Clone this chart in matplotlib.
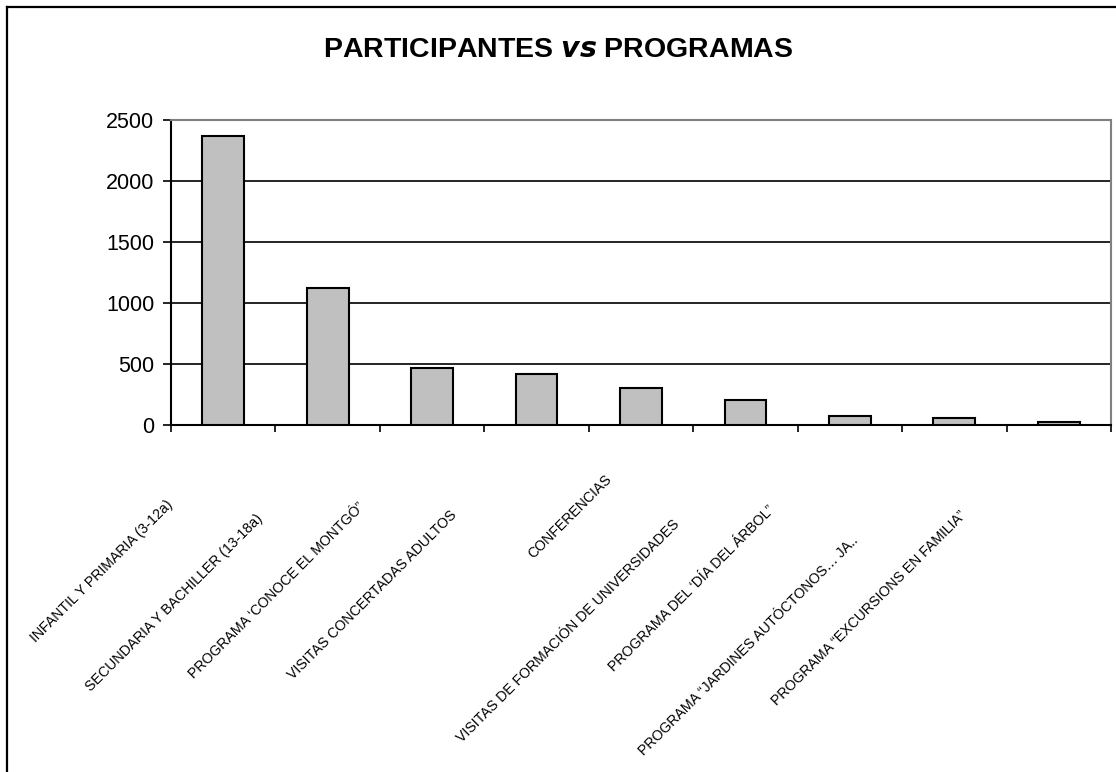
import matplotlib.pyplot as plt
from matplotlib.lines import Line2D

categorias = [
    "INFANTIL Y PRIMARIA (3-12a)",
    "SECUNDARIA Y BACHILLER (13-18a)",
    "PROGRAMA \u2018CONOCE EL MONTG\u00d3\u201d",
    "VISITAS CONCERTADAS ADULTOS",
    "CONFERENCIAS",
    "VISITAS DE FORMACI\u00d3N DE UNIVERSIDADES",
    "PROGRAMA DEL \u2018D\u00cdA DEL \u00c1RBOL\u201d",
    "PROGRAMA \u201cJARDINES AUT\u00d3CTONOS\u2026 JA..",
    "PROGRAMA \u201cEXCURSIONS EN FAMILIA\u201d",
]
participantes = [2370, 1120, 465, 420, 300, 205, 75, 60, 27]
y_ticks = [0, 500, 1000, 1500, 2000, 2500]

# label end offsets (px) from category centre / axis bottom
label_dx = [-58, -72, -75, -87, -36, -73, -82, -103, -100]
label_dy = [73, 87, 75, 83, 47, 92, 78, 108, 83]

W, H = 1116, 772
fig = plt.figure(figsize=(W / 100, H / 100), dpi=100)
ax = fig.add_axes([171 / W, 1 - 425 / H, 940 / W, 305 / H])

x = list(range(len(categorias)))
ax.bar(x, participantes, width=0.4, color="#c0c0c0", edgecolor="black",
       linewidth=1.5, zorder=3)

ax.set_xlim(-0.5, len(categorias) - 0.5)
ax.set_ylim(0, 2500)
ax.set_yticks(y_ticks)
ax.set_yticklabels([str(v) for v in y_ticks], fontfamily="Liberation Sans",
                   fontsize=15.5)
ax.yaxis.grid(True, color="black", linewidth=1.2, zorder=0)
ax.set_axisbelow(True)

ax.set_xticks([i - 0.5 for i in range(len(categorias) + 1)])
ax.set_xticklabels([])
ax.tick_params(axis="x", direction="out", length=5, width=1.2)
ax.tick_params(axis="y", direction="out", length=6, width=1.2, pad=6)

for side in ["left", "bottom"]:
    ax.spines[side].set_color("black")
    ax.spines[side].set_linewidth(1.5)
for side in ["top", "right"]:
    ax.spines[side].set_color("#808080")
    ax.spines[side].set_linewidth(1.5)

for i, lab in enumerate(categorias):
    ax.annotate(lab, xy=(i, 0), xycoords=("data", "axes fraction"),
                xytext=(label_dx[i], -label_dy[i]), textcoords="offset pixels",
                rotation=45, rotation_mode="anchor", ha="right", va="top",
                fontsize=10.2, fontfamily="Liberation Sans")

fig.text(0.5, 1 - 50 / H, "PARTICIPANTES $\\bfit{vs}$ PROGRAMAS", ha="center",
         va="center", fontsize=20.5, fontweight="bold", fontfamily="Liberation Sans")

# outer chart frame (clipped on the right and bottom)
fig.add_artist(Line2D([7 / W, 7 / W], [0, 1 - 7 / H], color="black", linewidth=1.6))
fig.add_artist(Line2D([7 / W, 1], [1 - 7 / H, 1 - 7 / H], color="black", linewidth=1.6))

fig.savefig("out.png", dpi=100)
